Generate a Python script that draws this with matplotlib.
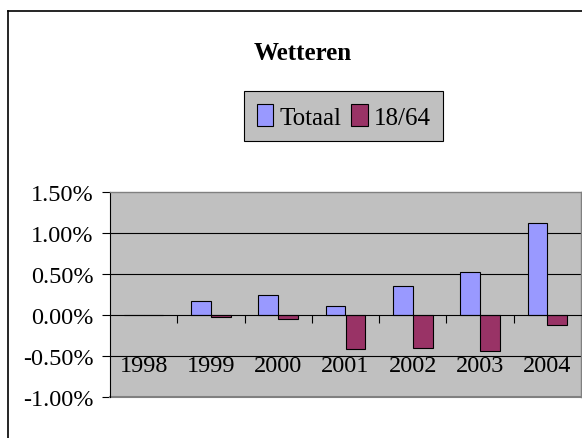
import matplotlib
matplotlib.use('Agg')
import matplotlib.pyplot as plt
import matplotlib.ticker as ticker
from matplotlib.lines import Line2D

plt.rcParams['font.family'] = ['Liberation Serif', 'DejaVu Serif']

# Data (percent change per year)
years = ['1998', '1999', '2000', '2001', '2002', '2003', '2004']
totaal = [0.0, 0.17, 0.25, 0.115, 0.35, 0.525, 1.12]
leeftijd_18_64 = [0.0, -0.025, -0.05, -0.42, -0.40, -0.44, -0.12]
series_names = ['Totaal', '18/64']
colors = ['#9999FF', '#993366']
y_ticks = [1.5, 1.0, 0.5, 0.0, -0.5, -1.0]

fig = plt.figure(figsize=(5.82, 4.39), dpi=100)
ax = fig.add_axes([110 / 582, 1 - 398 / 439, 471 / 582, 205 / 439])
ax.set_facecolor('#C0C0C0')

x = list(range(len(years)))
bw = 0.295
b1 = ax.bar([i - bw / 2 for i in x], totaal, bw, color=colors[0],
            edgecolor='black', linewidth=0.8, zorder=3, label=series_names[0])
b2 = ax.bar([i + bw / 2 for i in x], leeftijd_18_64, bw, color=colors[1],
            edgecolor='black', linewidth=0.8, zorder=3, label=series_names[1])

ax.set_xlim(-0.5, len(years) - 0.5)
ax.set_ylim(-1.0, 1.5)

# gridlines
for v in [1.0, 0.5, -0.5]:
    ax.axhline(v, color='black', linewidth=0.8, zorder=1)

# y axis
ax.yaxis.set_major_locator(ticker.FixedLocator(y_ticks))
ax.yaxis.set_major_formatter(ticker.FuncFormatter(lambda v, p: f'{v:.2f}%'))
ax.tick_params(axis='y', direction='out', length=6, width=0.8, pad=6,
               labelsize=17.5, colors='black')

# x axis at zero, ticks between categories, labels low
ax.spines['bottom'].set_position(('data', 0))
ax.spines['bottom'].set_linewidth(0.8)
ax.spines['bottom'].set_zorder(4)
ax.set_xticks(x)
ax.set_xticklabels(years)
ax.set_xticks([i + 0.5 for i in x[:-1]], minor=True)
ax.tick_params(axis='x', which='major', length=0, pad=29, labelsize=17.5)
ax.tick_params(axis='x', which='minor', direction='out', length=6, width=0.8)

ax.spines['left'].set_linewidth(0.8)
for s in ['top', 'right']:
    ax.spines[s].set_color('#808080')
    ax.spines[s].set_linewidth(1.0)

# plot area bottom edge
ax.add_artist(Line2D([0, 1], [0, 0], transform=ax.transAxes,
                     color='#808080', linewidth=1.5, clip_on=False))

fig.text(0.52, 0.877, 'Wetteren', ha='center', va='center',
         fontsize=18, fontweight='bold')

leg = fig.legend(handles=[b1, b2], labels=series_names, loc='center',
                 bbox_to_anchor=(0.591, 0.733), ncol=2, fontsize=18,
                 frameon=True, fancybox=False, shadow=False,
                 handlelength=0.65, handleheight=1.0, handletextpad=0.25,
                 columnspacing=0.4, borderpad=0.5, borderaxespad=0)
leg.get_frame().set_facecolor('#C0C0C0')
leg.get_frame().set_edgecolor('black')
leg.get_frame().set_linewidth(0.8)
leg.get_frame().set_alpha(1)

# chart border (left and top visible)
fig.add_artist(Line2D([8 / 582, 8 / 582], [-0.1, 1 - 12 / 439],
                      color='black', linewidth=1.2))
fig.add_artist(Line2D([8 / 582, 1.1], [1 - 12 / 439, 1 - 12 / 439],
                      color='black', linewidth=1.2))

plt.savefig('out.png', dpi=100)
